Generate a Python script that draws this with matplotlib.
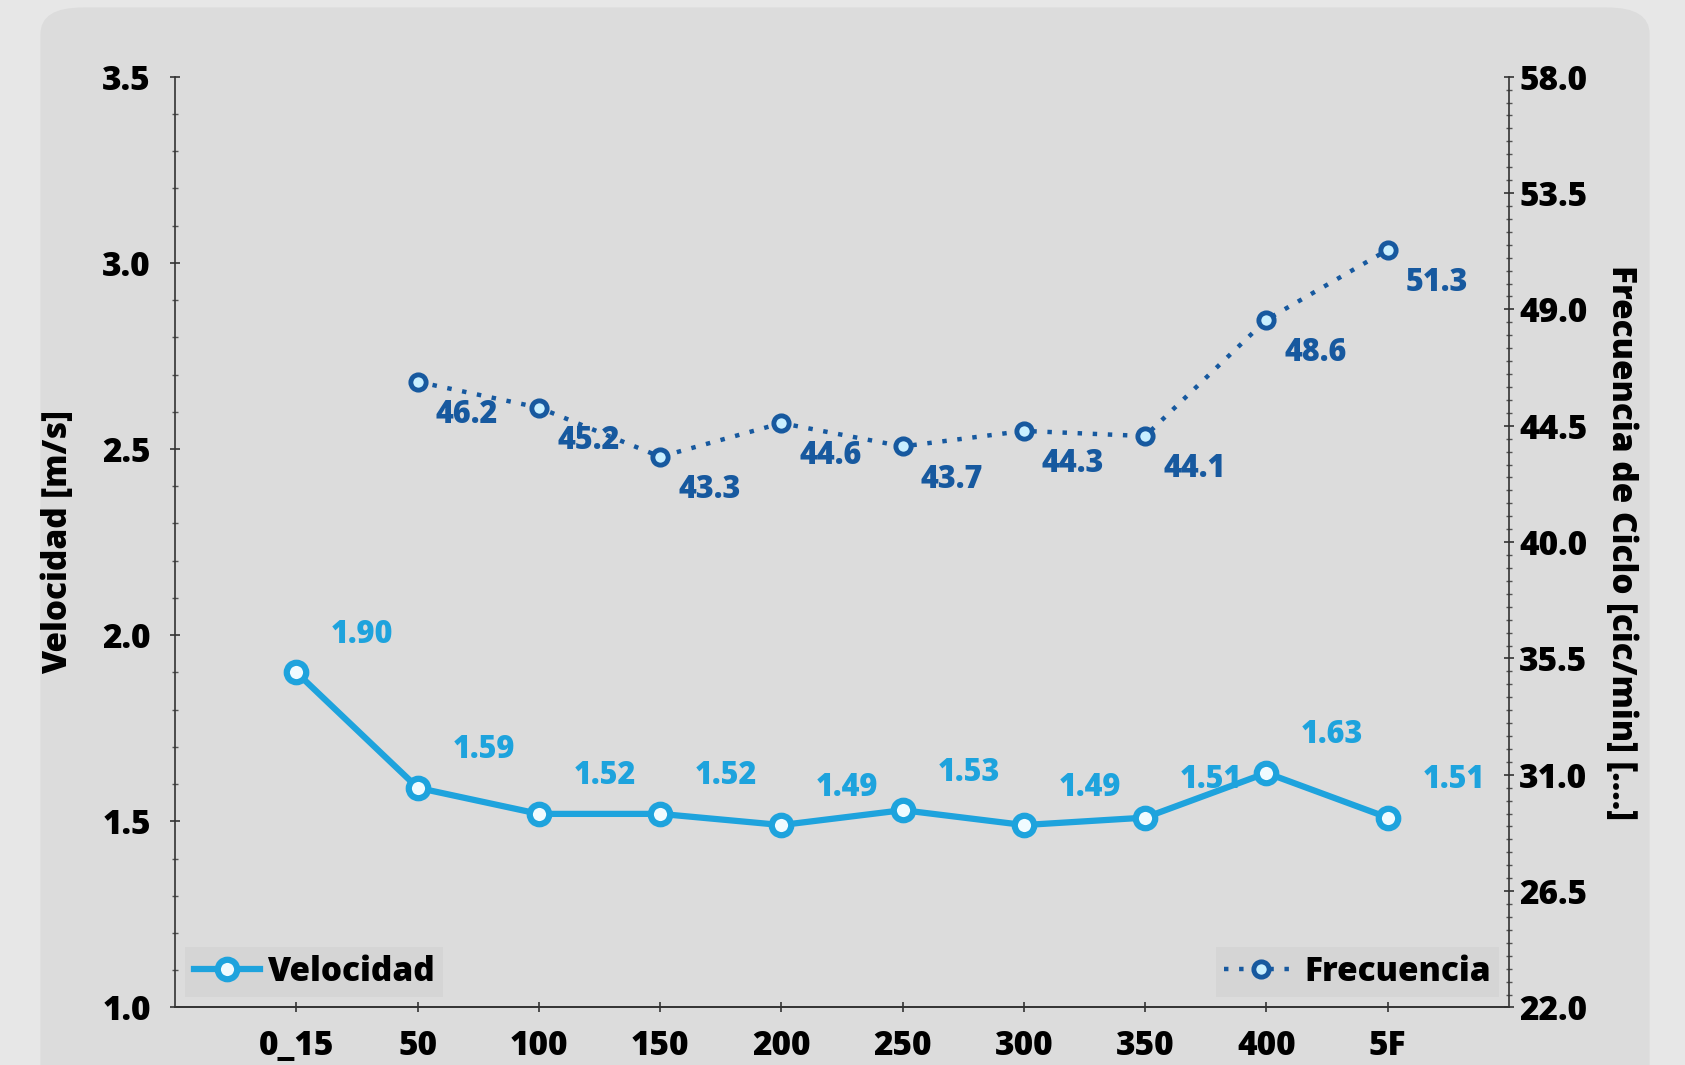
import matplotlib
matplotlib.use("Agg")
import matplotlib.pyplot as plt
from matplotlib.patches import FancyBboxPatch
from matplotlib.ticker import MultipleLocator, FixedLocator, FormatStrFormatter

# data
categories = ["0_15", "50", "100", "150", "200", "250", "300", "350", "400", "5F"]
velocidad = [1.90, 1.59, 1.52, 1.52, 1.49, 1.53, 1.49, 1.51, 1.63, 1.51]
frec_cats = ["50", "100", "150", "200", "250", "300", "350", "400", "5F"]
frecuencia = [46.2, 45.2, 43.3, 44.6, 43.7, 44.3, 44.1, 48.6, 51.3]
frec_ticks = [22.0, 26.5, 31.0, 35.5, 40.0, 44.5, 49.0, 53.5, 58.0]

c_vel = "#1ea3dd"
c_frec = "#17599f"

plt.rcParams['font.family'] = ['Open Sans', 'DejaVu Sans']
plt.rcParams['font.weight'] = 800
fs = 24
W = 800

fig = plt.figure(figsize=(16.85, 10.65), dpi=100)
fig.patch.set_facecolor("#e7e7e7")
panel = FancyBboxPatch((0.024, -0.05), 0.955, 1.043, boxstyle="round,pad=0,rounding_size=0.025",
                       transform=fig.transFigure, facecolor="#dcdcdc", edgecolor="none", zorder=-5)
fig.patches.append(panel)

ax = fig.add_axes([0.104, 0.054, 0.7915, 0.874])
ax.set_facecolor("none")
ax2 = ax.twinx()

x = list(range(len(categories)))
xf = [categories.index(c) for c in frec_cats]

l1, = ax.plot(x, velocidad, color=c_vel, lw=4.5, marker="o", ms=14, mfc="#f0fbff",
              mec=c_vel, mew=4.5, label="Velocidad", zorder=3)
l2, = ax2.plot(xf, frecuencia, color=c_frec, lw=3.2, ls=(0, (1, 2.4)), marker="o", ms=11,
               mfc="#c8efff", mec=c_frec, mew=3.5, label="Frecuencia", zorder=3)

for xi, v in zip(x, velocidad):
    ax.annotate(f"{v:.2f}", (xi, v), xytext=(25, 27), textcoords="offset points",
                color=c_vel, fontsize=fs - 2, fontweight=W, ha="left", va="center")
for xi, v in zip(xf, frecuencia):
    ax2.annotate(f"{v:.1f}", (xi, v), xytext=(13, -24), textcoords="offset points",
                 color=c_frec, fontsize=fs - 2, fontweight=W, ha="left", va="center")

ax.set_xlim(-1, 10)
ax.set_ylim(1.0, 3.5)
ax2.set_ylim(22.0, 58.0)
ax.set_xticks(x)
ax.set_xticklabels(categories)
ax.yaxis.set_major_locator(MultipleLocator(0.5))
ax.yaxis.set_minor_locator(MultipleLocator(0.1))
ax.yaxis.set_major_formatter(FormatStrFormatter("%.1f"))
ax2.yaxis.set_major_locator(FixedLocator(frec_ticks))
ax2.yaxis.set_minor_locator(MultipleLocator(0.5))
ax2.yaxis.set_major_formatter(FormatStrFormatter("%.1f"))

for a in (ax, ax2):
    a.spines["top"].set_visible(False)
    for s in ("left", "right", "bottom"):
        a.spines[s].set_color("#333333")
        a.spines[s].set_linewidth(1.2)
    a.tick_params(which="major", direction="inout", length=7, width=1.2, labelsize=fs, colors="#333333",
                  labelcolor="black")
    a.tick_params(which="minor", direction="inout", length=5, width=1, colors="#555555")
ax.spines["right"].set_visible(False)
ax2.spines["left"].set_visible(False)
ax.tick_params(axis="x", pad=12)
ax.tick_params(axis="y", pad=14)
ax2.tick_params(axis="y", pad=4)
for lab in ax.get_xticklabels() + ax.get_yticklabels() + ax2.get_yticklabels():
    lab.set_fontweight(W)

ax.set_ylabel("Velocidad [m/s]", fontsize=fs, fontweight=W, labelpad=20)
ax2.set_ylabel("Frecuencia de Ciclo [cic/min] [....]", fontsize=fs, fontweight=W,
               rotation=270, labelpad=36)

leg1 = ax.legend(handles=[l1], loc="lower left", bbox_to_anchor=(0.0, 0.0),
                 frameon=True, handlelength=2.0, handletextpad=0.2, borderaxespad=0.3,
                 borderpad=0.25, prop={"weight": W, "size": fs})
leg1.get_frame().set_facecolor("#d4d4d4")
leg1.get_frame().set_edgecolor("none")
leg1.get_frame().set_boxstyle("square", pad=0)
leg2 = ax2.legend(handles=[l2], loc="lower right", bbox_to_anchor=(1.0, 0.0),
                  frameon=True, handlelength=2.2, handletextpad=0.2, borderaxespad=0.3,
                  borderpad=0.25, prop={"weight": W, "size": fs})
leg2.get_frame().set_facecolor("#d4d4d4")
leg2.get_frame().set_edgecolor("none")
leg2.get_frame().set_boxstyle("square", pad=0)

fig.savefig("out.png", dpi=100, facecolor=fig.get_facecolor())
